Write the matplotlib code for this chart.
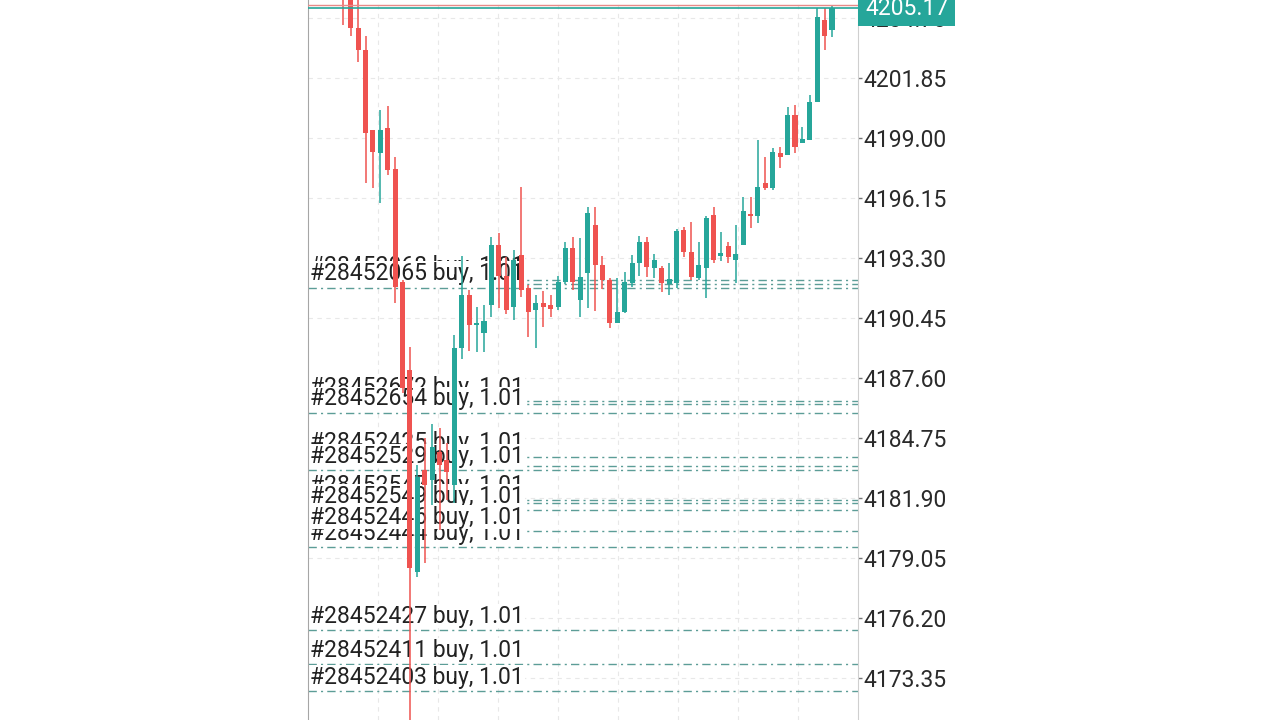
import matplotlib
matplotlib.use("Agg")
import matplotlib.pyplot as plt
import numpy as np

plt.rcParams["font.family"] = ["Roboto", "DejaVu Sans"]

# candles, oldest first
opens = [4206.40, 4205.90, 4204.22, 4203.20, 4199.38, 4198.29, 4199.48, 4197.53, 4192.16, 4187.98,
         4178.39, 4183.23, 4182.76, 4184.09, 4183.71, 4182.52, 4189.03, 4191.54, 4190.12, 4189.74,
         4191.07, 4193.92, 4192.45, 4190.97, 4193.44, 4191.87, 4190.83, 4191.16, 4191.07, 4190.97,
         4192.16, 4193.78, 4191.31, 4192.59, 4194.87, 4192.97, 4192.26, 4190.21, 4190.74, 4192.12,
         4193.06, 4194.06, 4192.82, 4192.82, 4192.07, 4192.12, 4194.63, 4193.58, 4192.35, 4192.82,
         4195.34, 4193.40, 4193.87, 4193.20, 4193.92, 4195.39, 4195.29, 4196.86, 4196.62, 4198.29,
         4198.19, 4200.09, 4198.76, 4198.91, 4200.71, 4204.61, 4204.13]
highs = [4206.60, 4206.10, 4205.55, 4203.85, 4199.40, 4200.33, 4200.52, 4198.10, 4192.26, 4189.07,
         4183.47, 4184.75, 4185.42, 4185.22, 4184.51, 4189.64, 4193.40, 4191.78, 4190.97, 4191.07,
         4194.30, 4194.49, 4193.35, 4193.68, 4196.67, 4192.02, 4191.54, 4191.73, 4191.54, 4192.44,
         4194.06, 4194.30, 4194.25, 4195.72, 4195.72, 4193.40, 4192.35, 4192.35, 4192.64, 4193.44,
         4194.35, 4194.30, 4193.49, 4192.92, 4193.06, 4194.68, 4194.77, 4195.01, 4194.06, 4195.29,
         4195.72, 4194.54, 4194.06, 4194.87, 4196.20, 4196.20, 4198.91, 4198.10, 4198.52, 4198.57,
         4200.47, 4200.57, 4199.52, 4201.04, 4205.18, 4205.18, 4205.32]
lows = [4204.37, 4203.85, 4202.61, 4196.86, 4196.63, 4195.91, 4197.24, 4191.16, 4186.90, 4170.50,
        4178.15, 4178.81, 4181.57, 4180.38, 4181.81, 4181.66, 4188.50, 4188.88, 4188.84, 4188.84,
        4190.50, 4190.93, 4190.64, 4190.36, 4191.45, 4189.55, 4189.03, 4190.02, 4190.50, 4190.83,
        4192.07, 4191.78, 4190.50, 4190.93, 4190.78, 4191.83, 4189.97, 4190.21, 4190.69, 4191.92,
        4192.45, 4192.40, 4192.35, 4191.69, 4191.54, 4191.87, 4193.35, 4192.26, 4192.26, 4191.40,
        4193.06, 4193.16, 4193.06, 4192.12, 4193.92, 4194.72, 4194.96, 4196.53, 4196.53, 4197.58,
        4198.19, 4198.29, 4198.76, 4198.91, 4200.71, 4203.18, 4203.80]
closes = [4205.90, 4204.22, 4203.18, 4199.24, 4198.34, 4199.38, 4197.48, 4191.92, 4187.13, 4178.58,
          4182.90, 4182.51, 4184.32, 4183.47, 4183.14, 4189.03, 4191.54, 4190.12, 4190.21, 4190.31,
          4193.92, 4192.45, 4190.83, 4193.20, 4191.78, 4190.74, 4191.16, 4190.97, 4190.88, 4192.16,
          4193.78, 4192.16, 4192.40, 4195.44, 4192.97, 4192.26, 4190.21, 4190.74, 4192.16, 4193.06,
          4194.06, 4192.87, 4193.20, 4192.12, 4192.30, 4194.58, 4193.58, 4192.40, 4192.97, 4195.20,
          4193.20, 4193.54, 4193.35, 4193.49, 4195.53, 4195.29, 4196.67, 4196.62, 4198.34, 4198.10,
          4200.09, 4198.57, 4198.95, 4200.71, 4204.75, 4203.85, 4205.17]

bid = 4205.17
ask = 4205.32
price_ticks = [4173.35, 4176.20, 4179.05, 4181.90, 4184.75, 4187.60,
               4190.45, 4193.30, 4196.15, 4199.00, 4201.85, 4204.70]

# open positions, in the order the labels get stacked
tickets = ["#28452059", "#28452068", "#28452065", "#28452667", "#28452672", "#28452654",
           "#28452537", "#28452425", "#28452529", "#28452551", "#28452547", "#28452549",
           "#28452444", "#28452446", "#28452427", "#28452411", "#28452403"]
entry_prices = [4192.07, 4192.25, 4191.88, 4186.36, 4186.50, 4185.94,
                4183.42, 4183.85, 4183.23, 4181.66, 4181.81, 4181.33,
                4179.57, 4180.33, 4175.63, 4174.01, 4172.73]

up_col = "#26a69a"
down_col = "#ef5350"

fig = plt.figure(figsize=(12.8, 7.2), dpi=100)
ax = fig.add_axes([308 / 1280, 0, 550 / 1280, 1])

o = np.array(opens)
c = np.array(closes)
x = np.arange(len(o))
cols = np.where(c >= o, up_col, down_col)

ax.set_xlim(-4.77, 69.51)
ax.set_ylim(4171.355, 4205.555)

# grid
ax.set_xticks(4.69 + 8.103 * np.arange(8))
ax.tick_params(axis="x", length=0, labelbottom=False)
ax.yaxis.tick_right()
ax.set_yticks(price_ticks)
ax.set_yticklabels([f"{t:.2f}" for t in price_ticks])
ax.tick_params(axis="y", length=3, width=1, color="#777777", pad=1,
               labelsize=16.5, labelcolor="#2a2a2a")
ax.grid(True, color="#e8e8e8", lw=0.8, ls=(0, (4, 4)), zorder=0)
ax.set_axisbelow(True)

for side in ["top", "bottom"]:
    ax.spines[side].set_visible(False)
ax.spines["left"].set_color("#a6a6a6")
ax.spines["right"].set_color("#cfcfcf")

# position lines + labels
for t, p in zip(tickets, entry_prices):
    ax.axhline(p, color="#5c9d97", lw=1.0, ls=(0, (6, 3, 1.5, 3)), zorder=1)
for t, p in zip(tickets, entry_prices):
    ax.annotate(f"{t} buy, 1.01", xy=(0, p), xycoords=("axes fraction", "data"),
                xytext=(2, 14), textcoords="offset pixels", ha="left", va="center",
                fontsize=16.5, color="#222222", zorder=2,
                bbox=dict(boxstyle="square,pad=0.04", fc="white", ec="none"))

# bid / ask
ax.axhline(ask, color="#e88a88", lw=1.0, zorder=5)
ax.axhline(bid, color=up_col, lw=1.2, zorder=5)

# candles
ax.vlines(x, lows, highs, colors=cols, lw=1.1, zorder=3)
ax.bar(x, np.maximum(np.abs(c - o), 0.08), bottom=np.minimum(o, c), width=0.68,
       color=cols, zorder=4)

ax.annotate(f"{bid:.2f}", xy=(1, bid), xycoords=("axes fraction", "data"),
            xytext=(7, 0), textcoords="offset pixels", ha="left", va="center",
            fontsize=16.5, color="white", zorder=6, annotation_clip=False,
            bbox=dict(boxstyle="square,pad=0.3", fc=up_col, ec="none"))

fig.savefig("out.png", dpi=100, facecolor="white")
